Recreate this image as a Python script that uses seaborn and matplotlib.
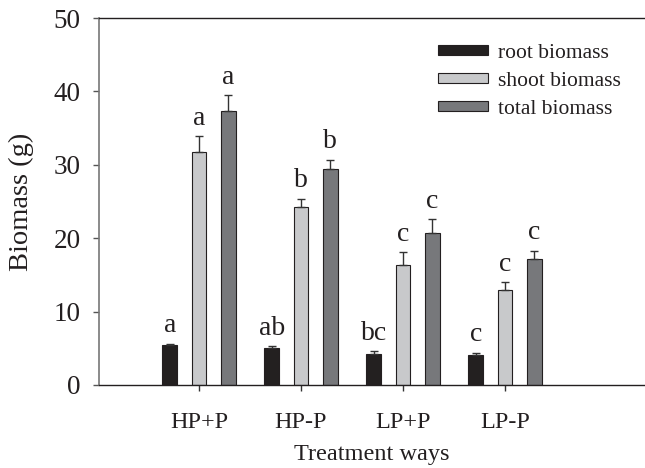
import matplotlib
matplotlib.use("Agg")
import matplotlib.pyplot as plt
import seaborn as sns
import pandas as pd
import numpy as np

treatments = ["HP+P", "HP-P", "LP+P", "LP-P"]
series = ["root biomass", "shoot biomass", "total biomass"]
root = [5.4, 5.0, 4.2, 4.1]
root_err = [0.25, 0.27, 0.4, 0.27]
shoot = [31.8, 24.3, 16.4, 13.0]
shoot_err = [2.1, 1.1, 1.7, 1.0]
total = [37.3, 29.4, 20.7, 17.1]
total_err = [2.2, 1.25, 1.9, 1.2]
root_letters = ["a", "ab", "bc", "c"]
shoot_letters = ["a", "b", "c", "c"]
total_letters = ["a", "b", "c", "c"]
colors = ["#231f20", "#c8c9cb", "#77787b"]

values = [root, shoot, total]
errors = [root_err, shoot_err, total_err]
letters = [root_letters, shoot_letters, total_letters]

df = pd.DataFrame({
    "Treatment": treatments * 3,
    "Series": [s for s in series for _ in treatments],
    "Biomass": root + shoot + total,
})

sns.set_style("ticks")
plt.rcParams["font.family"] = ["Liberation Serif", "DejaVu Serif"]
txt = "#231f20"
plt.rcParams["text.color"] = txt
plt.rcParams["axes.labelcolor"] = txt
plt.rcParams["xtick.color"] = "#333333"
plt.rcParams["ytick.color"] = "#555555"
plt.rcParams["xtick.labelcolor"] = txt
plt.rcParams["ytick.labelcolor"] = txt

fig = plt.figure(figsize=(6.45, 4.68), dpi=100)
ax = fig.add_axes([99 / 645, 83 / 468, 1 - 99 / 645, 367 / 468])

sns.barplot(data=df, x="Treatment", y="Biomass", hue="Series",
            order=treatments, hue_order=series, palette=colors,
            width=0.86, gap=0.5, edgecolor="#231f20", linewidth=0.8,
            errorbar=None, ax=ax)

for cont, errs, labs in zip(ax.containers, errors, letters):
    xs = [p.get_x() + p.get_width() / 2 for p in cont.patches]
    hs = [p.get_height() for p in cont.patches]
    ax.errorbar(xs, hs, yerr=[np.zeros(len(errs)), errs], fmt="none",
                ecolor="#333333", elinewidth=1, capsize=2.8, capthick=1, zorder=1)
    for x, h, e, l in zip(xs, hs, errs, labs):
        ax.annotate(l, (x, h + e), xytext=(0, 4), textcoords="offset points",
                    ha="center", va="bottom", fontsize=20, color=txt)

ax.set_xlim(-0.98, 4.373)
ax.set_ylim(0, 50)
ax.set_yticks([0, 10, 20, 30, 40, 50])
ax.set_xlabel("Treatment ways", fontsize=17.5, labelpad=7.5)
ax.set_ylabel("Biomass (g)", fontsize=20.5, labelpad=14)
ax.tick_params(axis="both", direction="out", length=4.3, width=1)
ax.tick_params(axis="x", labelsize=17.5, pad=15.5)
ax.tick_params(axis="y", labelsize=19.5, pad=9)

for s in ["top", "bottom"]:
    ax.spines[s].set_visible(True)
    ax.spines[s].set_color("#231f20")
    ax.spines[s].set_linewidth(1)
ax.spines["left"].set_color("#777777")
ax.spines["left"].set_linewidth(1.2)
ax.spines["right"].set_visible(False)

leg = ax.legend(loc="upper left", bbox_to_anchor=(438 / 645, 1 - 44 / 468),
                bbox_transform=fig.transFigure, frameon=False, fontsize=15.5,
                handlelength=2.3, handleheight=0.35, handletextpad=0.5,
                labelspacing=0.42, borderpad=0, borderaxespad=0, title=None)
for h in leg.legend_handles:
    h.set_edgecolor("#231f20")
    h.set_linewidth(0.8)

fig.savefig("out.png", dpi=100)
